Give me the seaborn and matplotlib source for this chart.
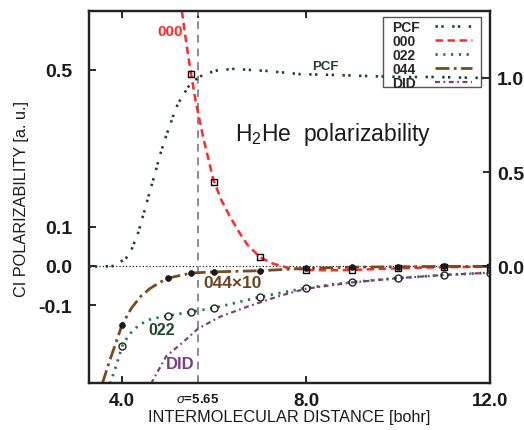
import matplotlib
matplotlib.use("Agg")
import matplotlib.pyplot as plt
from matplotlib.patches import Rectangle
import seaborn as sns

# ---------------- data (bohr / a.u.) ----------------
# pair correlation function, plotted on the right-hand scale
r_pcf = [3.28, 3.60, 3.85, 3.93, 4.09, 4.22, 4.35, 4.48, 4.57, 4.70, 4.80, 4.91,
         5.07, 5.17, 5.30, 5.46, 5.59, 5.78, 6.07, 6.41, 7.15, 7.87, 8.59, 9.32,
         10.04, 10.76, 11.80, 12.00]
pcf = [0.0, 0.0, 0.003, 0.019, 0.045, 0.098, 0.18, 0.29, 0.37, 0.48, 0.57, 0.66,
       0.77, 0.84, 0.90, 0.96, 0.99, 1.02, 1.04, 1.048, 1.037, 1.02, 1.016, 1.01,
       1.005, 1.005, 1.0, 1.0]

# 000 component
r_000 = [5.20, 5.30, 5.40, 5.50, 5.60, 5.76, 5.98, 6.15, 6.35, 6.55, 6.72, 7.00,
         7.28, 7.59, 8.00, 8.50, 9.00, 10.0, 11.0, 12.0]
a_000 = [0.80, 0.65, 0.565, 0.49, 0.42, 0.33, 0.222, 0.17, 0.125, 0.085, 0.055,
         0.022, 0.006, -0.004, -0.010, -0.011, -0.010, -0.006, -0.003, -0.002]
r_000_pts = [5.5, 6.0, 7.0, 8.0, 9.0, 10.0, 11.0, 12.0]
a_000_pts = [0.49, 0.214, 0.022, -0.010, -0.010, -0.006, -0.003, -0.002]

# 022 component
r_022 = [3.74, 3.87, 4.00, 4.15, 4.37, 4.63, 5.00, 5.50, 6.00, 7.00, 8.00, 9.00,
         10.0, 11.0, 12.0]
a_022 = [-0.30, -0.255, -0.205, -0.175, -0.150, -0.135, -0.127, -0.117, -0.107,
         -0.079, -0.056, -0.041, -0.031, -0.023, -0.017]
r_pts = [4.0, 5.0, 5.5, 6.0, 7.0, 8.0, 9.0, 10.0, 11.0, 12.0]
a_022_pts = [-0.205, -0.127, -0.117, -0.107, -0.079, -0.056, -0.041, -0.031,
             -0.023, -0.017]

# 044 component (scaled by 10)
r_044 = [3.57, 3.72, 3.87, 4.00, 4.20, 4.40, 4.60, 4.80, 5.00, 5.50, 6.00, 7.00,
         8.00, 9.00, 10.0, 11.0, 12.0]
a_044 = [-0.30, -0.245, -0.194, -0.150, -0.108, -0.078, -0.058, -0.043, -0.031,
         -0.018, -0.015, -0.012, -0.006, -0.003, -0.002, -0.001, -0.001]
a_044_pts = [-0.150, -0.031, -0.018, -0.015, -0.012, -0.006, -0.003, -0.002,
             -0.001, -0.001]

# dipole-induced-dipole reference
r_did = [4.63, 4.96, 5.30, 5.65, 6.12, 6.72, 7.43, 8.00, 9.00, 10.0, 11.0, 12.0]
a_did = [-0.30, -0.23, -0.197, -0.16, -0.13, -0.104, -0.076, -0.058, -0.042,
         -0.031, -0.023, -0.017]

sigma = 5.65
x_ticks = [4.0, sigma, 8.0, 12.0]
x_ticklabels = ["4.0", r"$\sigma$=5.65", "8.0", "12.0"]
y_ticks = [-0.1, 0.0, 0.1, 0.5]
y_ticklabels = ["-0.1", "0.0", "0.1", "0.5"]
y2_ticks = [0.0, 0.5, 1.0]
y2_ticklabels = ["0.0", "0.5", "1.0"]

# ---------------- style ----------------
sns.set_style("ticks")
plt.rcParams["font.family"] = ["Liberation Sans", "DejaVu Sans"]
plt.rcParams["mathtext.fontset"] = "custom"
plt.rcParams["mathtext.rm"] = "Liberation Sans"
plt.rcParams["mathtext.it"] = "Liberation Sans:italic"
plt.rcParams["mathtext.bf"] = "Liberation Sans:bold"

C_PCF = "#1f4229"
C_000 = "#ff2b2b"
C_022 = "#1f7a45"
C_044 = "#7a4a1c"
C_DID = "#7a3f80"

W, H = 524, 431
fig = plt.figure(figsize=(W / 100, H / 100), dpi=100)
ax = fig.add_axes([89 / W, 1 - 384 / H, 401 / W, 372 / H])
ax2 = ax.twinx()

# reference lines
ax.axhline(0.0, color="black", lw=0.8, ls=(0, (1, 2)), zorder=1)
ax.axvline(sigma, color="#8c8c8c", lw=1.4, ls=(0, (4, 3)), zorder=1)

line_kw = dict(estimator=None, errorbar=None, legend=False, sort=False)

sns.lineplot(x=r_000, y=a_000, ax=ax, color=C_000, lw=1.8,
             linestyle=(0, (3, 1.8)), label="000", zorder=3, **line_kw)
sns.lineplot(x=r_022, y=a_022, ax=ax, color=C_022, lw=2.0,
             linestyle=(0, (0.8, 2.0)), label="022", zorder=3, **line_kw)
sns.lineplot(x=r_044, y=a_044, ax=ax, color=C_044, lw=2.0,
             linestyle=(0, (5, 1.6, 1, 1.6)), label="044", zorder=3, **line_kw)
sns.lineplot(x=r_did, y=a_did, ax=ax, color=C_DID, lw=1.6,
             linestyle=(0, (2.2, 1.6, 0.8, 1.6)), label="DID", zorder=3, **line_kw)

# computed points
sns.lineplot(x=r_000_pts, y=a_000_pts, ax=ax, linestyle="none", marker="s",
             ms=5, mfc="none", mec="black", mew=1.0, zorder=5, **line_kw)
sns.lineplot(x=r_pts, y=a_022_pts, ax=ax, linestyle="none", marker="o",
             ms=5, mfc="none", mec="#222222", mew=1.0, zorder=5, **line_kw)
sns.lineplot(x=r_pts, y=a_044_pts, ax=ax, linestyle="none", marker="o",
             ms=4.2, mfc="#1a1a1a", mec="#1a1a1a", mew=0.5, zorder=5, **line_kw)

# pair correlation function on the right-hand axis
sns.lineplot(x=r_pcf, y=pcf, ax=ax2, color=C_PCF, lw=1.9,
             linestyle=(0, (0.9, 1.3, 0.9, 3.2)), label="PCF", zorder=3, **line_kw)

# ---------------- axes ----------------
ax.set_xlim(3.28, 12.0)
ax.set_ylim(-0.2985, 0.6505)
ax2.set_ylim(-0.618, 1.355)

ax.set_xticks(x_ticks)
ax.set_xticklabels(x_ticklabels)
ax.set_yticks(y_ticks)
ax.set_yticklabels(y_ticklabels)
ax2.set_yticks(y2_ticks)
ax2.set_yticklabels(y2_ticklabels)

ax.tick_params(axis="x", direction="in", length=5, width=1.3, top=True,
               labelsize=13.5, pad=6.5, colors="#1a1a1a")
ax.tick_params(axis="y", direction="in", length=5, width=1.3, right=False,
               labelsize=14, pad=12, colors="#1a1a1a")
ax2.tick_params(axis="y", direction="in", length=5, width=1.3, left=False,
                labelsize=14, pad=5, colors="#1a1a1a")
for lbl in ax.get_xticklabels() + ax.get_yticklabels() + ax2.get_yticklabels():
    lbl.set_fontweight("bold")
ax.get_xticklabels()[1].set_fontsize(9.5)

for a in (ax, ax2):
    for s in a.spines.values():
        s.set_linewidth(1.6)
        s.set_color("#222222")
        s.set_visible(True)

ax.set_xlabel("INTERMOLECULAR DISTANCE [bohr]", fontsize=11.7, color="#1a1a1a")
ax.xaxis.set_label_coords(0.5, -0.071)
ax.set_ylabel("CI POLARIZABILITY [a. u.]", fontsize=11.7, color="#1a1a1a")
ax.yaxis.set_label_coords(-0.150, 0.497)
ax2.set_ylabel("")

# ---------------- annotations ----------------
ax.text(5.04, 0.60, "000", color=C_000, fontsize=11, fontweight="bold",
        ha="center", va="center")
ax.text(8.41, 0.51, "PCF", color=C_PCF, fontsize=9.5, fontweight="bold",
        ha="center", va="center")
ax.text(4.85, -0.161, "022", color="#1d4a2a", fontsize=11.5, fontweight="bold",
        ha="center", va="center")
ax.text(5.26, -0.25, "DID", color=C_DID, fontsize=12, fontweight="bold",
        ha="center", va="center")
ax.text(6.41, -0.041, "044\u00d710", color="#6e4420", fontsize=12.5,
        fontweight="bold", ha="center", va="center")
ax.text(8.59, 0.337, "H$_2$He  polarizability", color="#1a1a1a", fontsize=16.5,
        ha="center", va="center")

# ---------------- legend ----------------
h1, l1 = ax.get_legend_handles_labels()
h2, l2 = ax2.get_legend_handles_labels()
handles = dict(zip(l1 + l2, h1 + h2))
order = ["PCF", "000", "022", "044", "DID"]
leg_fs = 10
leg_pad = 1.1
leg = ax.legend([handles[k] for k in order], order, loc="upper right",
                bbox_to_anchor=(472 / W, 1 - 20.5 / H),
                bbox_transform=fig.transFigure, borderaxespad=0, borderpad=0,
                frameon=False, markerfirst=False, handlelength=2.66,
                handletextpad=leg_pad, labelspacing=0.0,
                prop={"weight": "bold", "size": leg_fs})
leg.set_zorder(6)

# legend frame, drawn under the right-axis curve
ax.add_patch(Rectangle((383 / W, 1 - 88 / H), 98 / W, 70 / H,
                       transform=fig.transFigure, facecolor="white",
                       edgecolor="#555555", lw=1.0, zorder=5.5))

# left-align the label column (handles sit on the right)
fig.canvas.draw()
renderer = fig.canvas.get_renderer()
widths = [t.get_window_extent(renderer).width for t in leg.get_texts()]
pt2px = renderer.points_to_pixels(1.0)
column = leg._legend_handle_box.get_children()[0]
for row, w in zip(column.get_children(), widths):
    row.sep = leg_pad * leg_fs + (max(widths) - w) / pt2px

fig.savefig("out.png", dpi=100)
